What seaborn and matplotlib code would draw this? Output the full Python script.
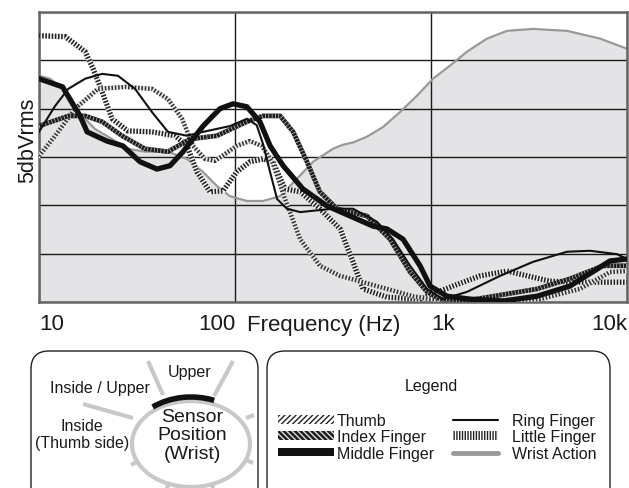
import seaborn as sns
import matplotlib.pyplot as plt
from matplotlib.patches import FancyBboxPatch, Ellipse, Arc, Patch
from matplotlib.lines import Line2D
from matplotlib.ticker import NullLocator

# levels are in grid divisions (one division = 5 dB), frequency in Hz
thumb_f = [10, 12.1, 15.3, 20.0, 27.5, 37.7, 45.5, 53.7, 61.1, 70.3, 79.1, 102, 119, 137, 155, 180, 215,
           271, 344, 450, 597, 810, 989, 1581, 3600, 5754, 8192, 10000]
thumb_v = [3.02, 3.44, 4.00, 4.41, 4.45, 4.41, 4.20, 3.79, 3.23, 2.96, 2.92, 3.23, 3.33, 3.23, 2.90, 2.13, 1.30,
           0.75, 0.54, 0.41, 0.27, 0.12, 0.06, 0.02, 0.06, 0.27, 0.62, 0.64]

index_f = [10, 14.1, 17.2, 21.0, 26.5, 34.7, 45.5, 58.9, 80.9, 115, 139, 170, 198, 233, 271, 331, 471,
           618, 782, 955, 1112, 1581, 3475, 5117, 7547, 10000]
index_v = [3.64, 3.85, 3.85, 3.73, 3.44, 3.17, 3.11, 3.37, 3.44, 3.73, 3.85, 3.85, 3.52, 2.90, 2.28, 1.93, 1.78,
           1.30, 0.62, 0.21, 0.06, 0.04, 0.27, 0.48, 0.75, 0.75]

middle_f = [10, 13.2, 16.2, 17.6, 22.2, 26.8, 32.8, 40.0, 46.6, 54.3, 68.7, 83.8, 97.7, 115, 134, 151, 176,
            222, 294, 386, 506, 597, 720, 879, 989, 1207, 1581, 2330, 3475, 5117, 7030, 8192, 10000]
middle_v = [4.62, 4.45, 3.85, 3.52, 3.33, 3.23, 2.90, 2.75, 2.82, 3.11, 3.64, 4.00, 4.10, 4.04, 3.73, 3.23, 2.82,
            2.34, 1.99, 1.78, 1.57, 1.51, 1.30, 0.75, 0.33, 0.12, 0.06, 0.02, 0.12, 0.33, 0.68, 0.85, 0.89]

ring_f = [10, 12.1, 14.1, 17.2, 21.0, 25.3, 30.9, 37.7, 45.5, 56.9, 68.7, 94.2, 115, 129, 139, 151, 164,
          184, 215, 316, 400, 530, 640, 782, 955, 1151, 1527, 2250, 3313, 4943, 6478, 8892, 10000]
ring_v = [3.52, 4.06, 4.41, 4.62, 4.72, 4.68, 4.41, 3.93, 3.52, 3.44, 3.52, 3.64, 3.79, 3.66, 3.27, 2.69, 2.13,
          1.93, 1.86, 1.93, 1.93, 1.66, 1.30, 0.75, 0.27, 0.06, 0.21, 0.54, 0.83, 1.04, 1.06, 0.99, 0.89]

little_f = [10, 13.6, 17.2, 18.9, 21.0, 23.6, 28.4, 37.7, 49.4, 56.9, 64.0, 74.5, 86.9, 102, 119, 139, 156,
            180, 215, 271, 344, 400, 450, 597, 879, 1294, 1778, 2443, 4047, 5966, 10000]
little_v = [5.51, 5.49, 5.18, 4.82, 4.35, 3.79, 3.54, 3.52, 3.44, 3.23, 2.69, 2.28, 2.30, 2.69, 2.90, 2.96, 2.90,
            2.34, 2.28, 1.93, 1.51, 0.83, 0.27, 0.10, 0.06, 0.33, 0.54, 0.64, 0.43, 0.41, 0.41]

wrist_f = [10, 11.4, 13.1, 14.7, 16.6, 19.3, 23.6, 28.4, 34.7, 45.5, 56.9, 68.7, 80.9, 94.2, 115, 139, 170,
           207, 250, 316, 353, 400, 471, 569, 695, 849, 1024, 1250, 1527, 1932, 2443, 3313, 4943, 7278, 10000]
wrist_v = [4.68, 4.62, 4.41, 4.06, 3.85, 3.58, 3.37, 3.17, 3.11, 3.11, 2.96, 2.69, 2.40, 2.19, 2.09, 2.09, 2.19,
           2.55, 2.90, 3.17, 3.25, 3.30, 3.42, 3.62, 3.93, 4.27, 4.62, 4.89, 5.18, 5.45, 5.61, 5.65, 5.61, 5.45, 5.24]

tick_pos = [10, 100, 1000, 10000]
tick_labels = ['10', '100', '1k', '10k']

sns.set_theme(style='white')
plt.rcParams['font.family'] = ['Liberation Sans', 'DejaVu Sans']

W, H = 629, 489
fig = plt.figure(figsize=(W / 100, H / 100), dpi=100)
ax = fig.add_axes([39 / W, 1 - 303 / H, 588 / W, 290 / H])


def line(f, v, **kw):
    sns.lineplot(x=f, y=v, ax=ax, estimator=None, sort=False, **kw)


# wrist action: grey line with filled area
ax.fill_between(wrist_f, 0, wrist_v, color='#e4e4e6', lw=0, zorder=0.2)
line(wrist_f, wrist_v, color='#999999', lw=1.6, zorder=2)

# patterned fingers: light base + dashed overlay
line(little_f, little_v, color='#f4f4f4', lw=3.8, zorder=3)
line(little_f, little_v, color='#222222', lw=3.8, linestyle=(0, (0.3, 0.3)), zorder=3.1)
line(thumb_f, thumb_v, color='#e8e8e8', lw=3.2, zorder=3.2)
line(thumb_f, thumb_v, color='#333333', lw=3.2, linestyle=(0, (0.35, 0.4)), zorder=3.3)
line(index_f, index_v, color='#1e1e1e', lw=3.4, zorder=3.4)
line(index_f, index_v, color='#c4c4c4', lw=3.4, linestyle=(0, (0.15, 0.55)), zorder=3.5)
line(ring_f, ring_v, color='#111111', lw=1.5, zorder=3.6)
line(middle_f, middle_v, color='#111111', lw=3.8, zorder=3.7)

ax.set_xscale('log')
ax.set_xlim(10, 10000)
ax.set_ylim(0, 6)
ax.set_xticks(tick_pos)
ax.set_xticklabels(tick_labels)
ax.xaxis.set_minor_locator(NullLocator())
ax.set_yticks(range(7))
ax.set_yticklabels([])
ax.set_axisbelow('line')
ax.grid(True, color='#1a1a1a', lw=1.0)
ax.tick_params(axis='both', length=0)
ax.tick_params(axis='x', labelsize=16, pad=8, labelcolor='#1a1a1a')
for lbl, ha in zip(ax.get_xticklabels(), ['left', 'right', 'left', 'right']):
    lbl.set_ha(ha)
for sp in ax.spines.values():
    sp.set_color('#666666')
    sp.set_linewidth(1.8)
ax.set_xlabel('')
ax.set_ylabel('')
ax.text(0.354, -0.076, 'Frequency (Hz)', transform=ax.transAxes, ha='left', va='center',
        fontsize=16, color='#1a1a1a')
ax.text(-0.020, 0.562, '5dbVrms', transform=ax.transAxes, ha='center', va='center',
        rotation=90, fontsize=15.5, color='#1a1a1a')

# lower panels drawn in pixel coordinates
ov = fig.add_axes([0, 0, 1, 1])
ov.set_xlim(0, W)
ov.set_ylim(H, 0)
ov.axis('off')

for x0, w in [(31, 227), (267, 343)]:
    ov.add_patch(FancyBboxPatch((x0, 352), w, 170, boxstyle='round,pad=0,rounding_size=18',
                                fc='none', ec='#222222', lw=1.0))

# sensor position sketch
grey = '#c8c8c8'
ov.add_patch(Ellipse((191, 445), 118, 86, fc='none', ec=grey, lw=3))
for (xa, ya), (xb, yb) in [((148, 362), (163, 396)), ((233, 362), (214, 397)), ((83, 405), (133, 419)),
                           ((246, 419), (254, 416)), ((246, 461), (253, 464)), ((168, 486), (166, 492)),
                           ((212, 486), (214, 492)), ((138, 462), (131, 466))]:
    ov.plot([xa, xb], [ya, yb], color=grey, lw=3, solid_capstyle='butt')
ov.add_patch(Arc((191, 445), 124, 94, theta1=224, theta2=298, color='#111111', lw=4))

ov.text(190, 372, 'Upper', ha='center', va='center', fontsize=11.5, color='#1a1a1a')
ov.text(100, 388, 'Inside / Upper', ha='center', va='center', fontsize=11.5, color='#1a1a1a')
ov.text(82, 435, 'Inside\n(Thumb side)', ha='center', va='center', fontsize=11.5, color='#1a1a1a',
        linespacing=1.1)
ov.text(192, 436, 'Sensor\nPosition\n(Wrist)', ha='center', va='center', fontsize=14, color='#1a1a1a',
        linespacing=1.12)

# legend
ov.text(431, 387, 'Legend', ha='center', va='center', fontsize=11.5, color='#1a1a1a')
left_handles = [
    Patch(facecolor='white', edgecolor='#222222', hatch='//////', lw=0),
    Patch(facecolor='#1e1e1e', edgecolor='#dddddd', hatch='\\\\\\\\\\\\', lw=0),
    Patch(facecolor='#111111', edgecolor='#111111', lw=0),
]
right_handles = [
    Line2D([], [], color='#111111', lw=1.5),
    Patch(facecolor='white', edgecolor='#222222', hatch='||||||', lw=0),
    Line2D([], [], color='#999999', lw=3.5),
]
leg_kw = dict(frameon=False, fontsize=11.5, borderpad=0, labelspacing=0.08, handleheight=0.45,
              loc='upper left', bbox_transform=ov.transData, labelcolor='#1a1a1a')
leg1 = ov.legend(left_handles, ['Thumb', 'Index Finger', 'Middle Finger'], bbox_to_anchor=(270, 406),
                 handlelength=3.5, handletextpad=0.2, **leg_kw)
ov.add_artist(leg1)
ov.legend(right_handles, ['Ring Finger', 'Little Finger', 'Wrist Action'], bbox_to_anchor=(445, 406),
          handlelength=2.8, handletextpad=0.9, **leg_kw)

fig.savefig('out.png', dpi=100)
